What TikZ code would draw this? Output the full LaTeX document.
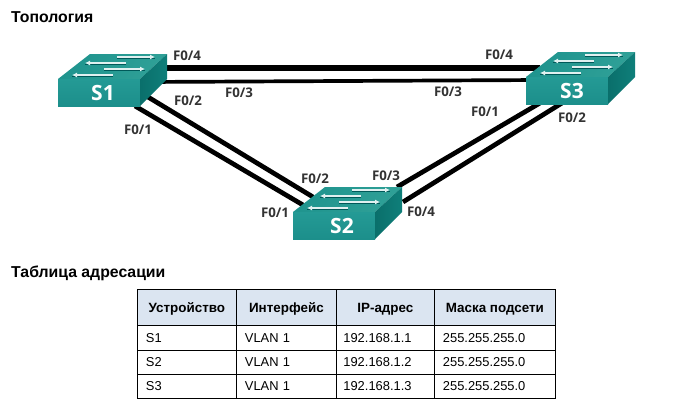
\documentclass[tikz,border=0pt]{standalone}
\usepackage{fontspec}
\setmainfont{Liberation Sans}
\newfontfamily\swfont{Open Sans}
\usetikzlibrary{arrows.meta}
\definecolor{hdr}{HTML}{DBE5F1}
\definecolor{tealfront}{HTML}{1C8F8B}
\definecolor{tealfrontb}{HTML}{249A95}
\definecolor{tealside}{HTML}{0A6F6B}
\definecolor{tealsideb}{HTML}{0F7F7A}
\definecolor{tealtop}{HTML}{1F948E}
\definecolor{tealtopb}{HTML}{2FA097}
\tikzset{
  title/.style={font=\fontsize{15.8}{18}\selectfont\bfseries,anchor=west,inner sep=0pt},
  port/.style={font=\swfont\fontsize{13.3}{15}\selectfont\bfseries,text=black!80,inner sep=0pt},
  swname/.style={font=\swfont\fontsize{21}{23}\selectfont\bfseries,text=white,inner sep=0pt},
  wire/.style={line width=4.7pt,black},
  topwire/.style={line width=5.2pt,black},
  thinwire/.style={line width=3.7pt,black},
  swarrow/.style={line width=2pt,white!88!teal,-{Latex[length=5pt,width=5pt]}},
  swshadow/.style={line width=1.4pt,teal!70!black},
  cell/.style={draw=black,line width=0.8pt,minimum height=24.5pt,inner sep=0pt,anchor=north west,text depth=0pt,font=\fontsize{12.9}{15}\selectfont},
  hcell/.style={cell,fill=hdr,minimum height=36pt,font=\fontsize{13.4}{15}\selectfont\bfseries},
}
\newcommand{\onearrow}[3]{%
  \draw[swshadow] (#1,#3+1.3) -- (#2,#3+1.3);
  \draw[swarrow] (#1,#3) -- (#2,#3);}
\newcommand{\switchbox}[5]{%
  \begin{scope}[shift={(#2,#3)}]
    \shade[left color=tealtop,right color=tealtopb,shading angle=60] (0,0) -- (32,-25) -- (109,-25) -- (82,0) -- cycle;
    \shade[bottom color=tealfront,top color=tealfrontb] (0,0) rectangle (82,27);
    \shade[left color=tealside,right color=tealsideb] (82,0) -- (109,-25) -- (109,0) -- (82,27) -- cycle;
    \onearrow{59}{97}{-22}
    \onearrow{68}{27}{-16}
    \onearrow{46}{87}{-10}
    \onearrow{55}{14}{-4}
    \node[swname] (#1) at (#5,14) {#4};
  \end{scope}}
\begin{document}
\begin{tikzpicture}[x=1pt,y=-1pt]
\useasboundingbox (0,0) rectangle (677,410);
\fill[white] (0,0) rectangle (677,410);
\node[title] (ttop) at (11,17) {Топология};
\node[title] (ttab) at (11,273) {Таблица адресации};
\coordinate (a4) at (160,68);
\coordinate (a3) at (145,82);
\coordinate (a2) at (148,97);
\coordinate (a1) at (135,106);
\coordinate (b2) at (313,197);
\coordinate (b1) at (303,205);
\coordinate (b3) at (397,187);
\coordinate (b4) at (403,202);
\coordinate (c4) at (540,68);
\coordinate (c3) at (540,80);
\coordinate (c1) at (540,103);
\coordinate (c2) at (562,103);
\draw[topwire] (a4) -- (c4);
\draw[thinwire] (a3) -- (c3);
\draw[wire] (a2) -- (b2);
\draw[wire] (a1) -- (b1);
\draw[wire] (b3) -- (c1);
\draw[wire] (b4) -- (c2);
\switchbox{s1}{58}{79}{S1}{45}
\switchbox{s2}{293}{212}{S2}{49}
\switchbox{s3}{526}{77}{S3}{46}
\node[port] (p1) at (187,56) {F0/4};
\node[port] (p2) at (239,93) {F0/3};
\node[port] (p3) at (188,101) {F0/2};
\node[port] (p4) at (138,130) {F0/1};
\node[port] (p5) at (315,179) {F0/2};
\node[port] (p6) at (386,176) {F0/3};
\node[port] (p7) at (275,213) {F0/1};
\node[port] (p8) at (421,212) {F0/4};
\node[port] (p9) at (499,55) {F0/4};
\node[port] (p10) at (448,92) {F0/3};
\node[port] (p11) at (485,112) {F0/1};
\node[port] (p12) at (572,118) {F0/2};
\newcommand{\hc}[4]{\node[hcell,minimum width=#2pt,align=center] (#1) at (#3,289) {#4};}
\hc{h1}{99}{137}{Устройство}
\hc{h2}{100}{236}{Интерфейс}
\hc{h3}{98}{336}{IP-адрес}
\hc{h4}{121}{434}{Маска подсети}
\newcommand{\bc}[6][8.5pt]{\node[cell,minimum width=#3pt,text width=#3pt-2*#1,align=left,inner xsep=#1] (#2) at (#4,#5) {#6};}
\bc{a}{99}{137}{325}{S1}\bc{b}{100}{236}{325}{VLAN 1}\bc[7pt]{c}{98}{336}{325}{192.168.1.1}\bc{d}{121}{434}{325}{255.255.255.0}
\bc{e}{99}{137}{349.5}{S2}\bc{f}{100}{236}{349.5}{VLAN 1}\bc[7pt]{g}{98}{336}{349.5}{192.168.1.2}\bc{h}{121}{434}{349.5}{255.255.255.0}
\bc{i}{99}{137}{373.8}{S3}\bc{j}{100}{236}{373.8}{VLAN 1}\bc[7pt]{k}{98}{336}{373.8}{192.168.1.3}\bc{l}{121}{434}{373.8}{255.255.255.0}
\end{tikzpicture}
\end{document}
